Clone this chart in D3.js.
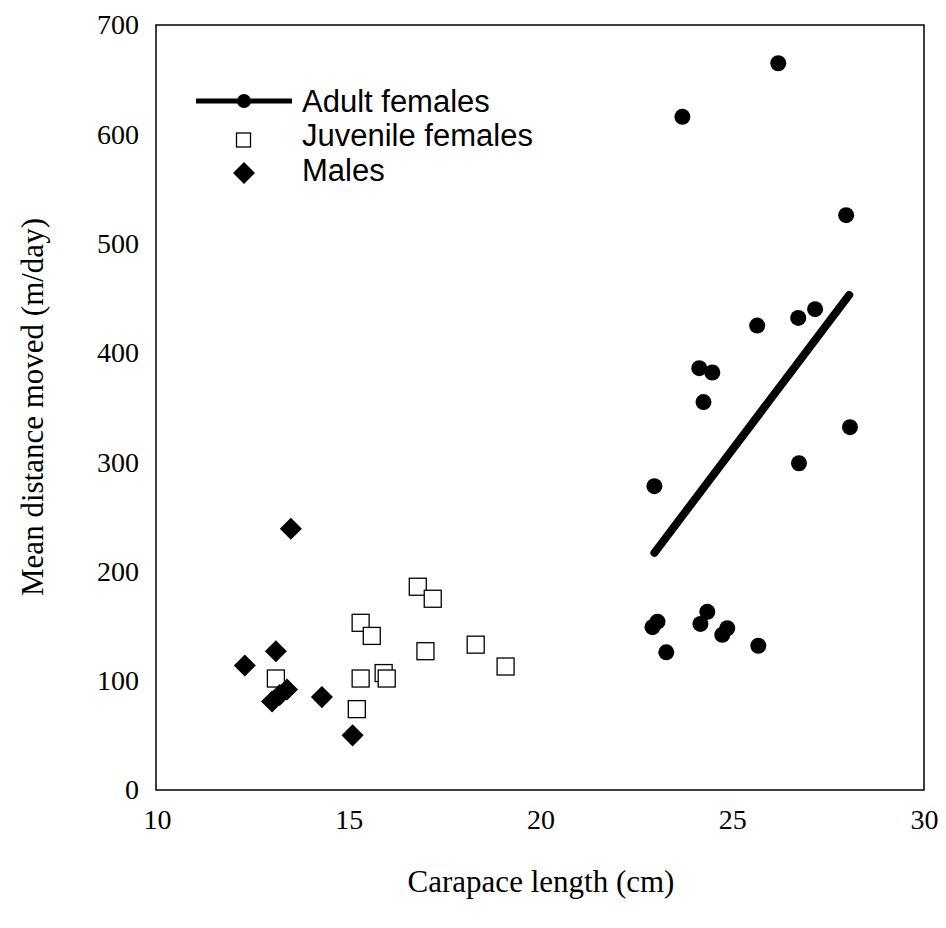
<!DOCTYPE html>
<html><head><meta charset="utf-8">
<script src="https://cdn.jsdelivr.net/npm/d3@7"></script>
<style>body{margin:0;background:#fff}svg{display:block}</style>
</head><body><div id="chart"></div>
<script>
const adultX = [26.2,23.7,27.97,25.65,26.72,27.16,24.14,24.48,24.25,28.07,26.74,22.97,23.05,22.92,24.35,24.17,24.87,24.74,23.28,25.68];
const adultY = [665,616,526,425,432,440,386,382,355,332,299,278,154,149,163,152,148,142,126,132];
const juvX = [16.8,17.19,15.31,15.6,17.0,18.31,19.09,13.1,15.31,15.91,15.99,15.21];
const juvY = [186,175,153,141,127,133,113,102,102,107,102,74];
const maleX = [13.49,13.1,12.29,13.39,13.2,13.0,14.3,15.1];
const maleY = [239,127,114,92,87,81,85,50];
const fitX = [22.97,28.05];
const fitY = [217,453];
const xTicks = [10,15,20,25,30];
const yTicks = [0,100,200,300,400,500,600,700];
const legendLabels = ["Adult females","Juvenile females","Males"];

const W=946,H=928;
const serif="Liberation Serif, Times New Roman, serif";
const svg=d3.select("#chart").append("svg").attr("width",W).attr("height",H);
const x=d3.scaleLinear().domain([10,30]).range([157,924]);
const y=d3.scaleLinear().domain([0,700]).range([790,25]);

// frame
svg.append("rect").attr("x",x(10)-1).attr("y",y(700)).attr("width",x(30)-x(10)+1).attr("height",y(0)-y(700))
  .attr("fill","none").attr("stroke","#000").attr("stroke-width",1.5);

// axes
const xa=svg.append("g").attr("transform",`translate(0,${y(0)})`)
  .call(d3.axisBottom(x).tickValues(xTicks).tickSize(0).tickPadding(19).tickFormat(d3.format("d")));
const ya=svg.append("g").attr("transform",`translate(${x(10)},0)`)
  .call(d3.axisLeft(y).tickValues(yTicks).tickSize(0).tickPadding(18).tickFormat(d3.format("d")));
[xa,ya].forEach(g=>{g.select(".domain").remove();
  g.selectAll("text").attr("font-family",serif).attr("font-size",28).attr("fill","#000");});

svg.append("text").attr("x",541).attr("y",892).attr("text-anchor","middle")
  .attr("font-family",serif).attr("font-size",31).attr("fill","#000").text("Carapace length (cm)");
svg.append("text").attr("transform","translate(43,407) rotate(-90)").attr("text-anchor","middle")
  .attr("font-family",serif).attr("font-size",31).attr("fill","#000").text("Mean distance moved (m/day)");

const adult=adultX.map((v,i)=>[v,adultY[i]]);
const juv=juvX.map((v,i)=>[v,juvY[i]]);
const male=maleX.map((v,i)=>[v,maleY[i]]);

// fit line
svg.append("path").datum(fitX.map((v,i)=>[v,fitY[i]]))
  .attr("d",d3.line().x(d=>x(d[0])).y(d=>y(d[1])))
  .attr("stroke","#000").attr("stroke-width",8).attr("stroke-linecap","round").attr("fill","none");

svg.append("g").selectAll("circle").data(adult).join("circle")
  .attr("cx",d=>x(d[0])).attr("cy",d=>y(d[1])).attr("r",8).attr("fill","#000");

const sq=17;
svg.append("g").selectAll("rect").data(juv).join("rect")
  .attr("x",d=>x(d[0])-sq/2).attr("y",d=>y(d[1])-sq/2).attr("width",sq).attr("height",sq)
  .attr("fill","#fff").attr("stroke","#000").attr("stroke-width",1.3);

svg.append("g").selectAll("path").data(male).join("path")
  .attr("d",d3.symbol().type(d3.symbolSquare).size(243))
  .attr("transform",d=>`translate(${x(d[0])},${y(d[1])}) rotate(45)`).attr("fill","#000");

// legend
const lg=svg.append("g");
lg.append("line").attr("x1",196).attr("x2",292).attr("y1",101).attr("y2",101).attr("stroke","#000").attr("stroke-width",5);
lg.append("circle").attr("cx",244).attr("cy",101).attr("r",7).attr("fill","#000");
lg.append("rect").attr("x",236.5).attr("y",133).attr("width",14).attr("height",14).attr("fill","#fff").attr("stroke","#000").attr("stroke-width",1.3);
lg.append("path").attr("d",d3.symbol().type(d3.symbolSquare).size(240)).attr("transform","translate(244,173) rotate(45)").attr("fill","#000");
const ly=[112,146,181];
legendLabels.forEach((t,i)=>{
  lg.append("text").attr("x",302).attr("y",ly[i]).attr("font-family","Liberation Sans, Arial, sans-serif")
    .attr("font-size",31).attr("fill","#000").text(t);
});
</script></body></html>
